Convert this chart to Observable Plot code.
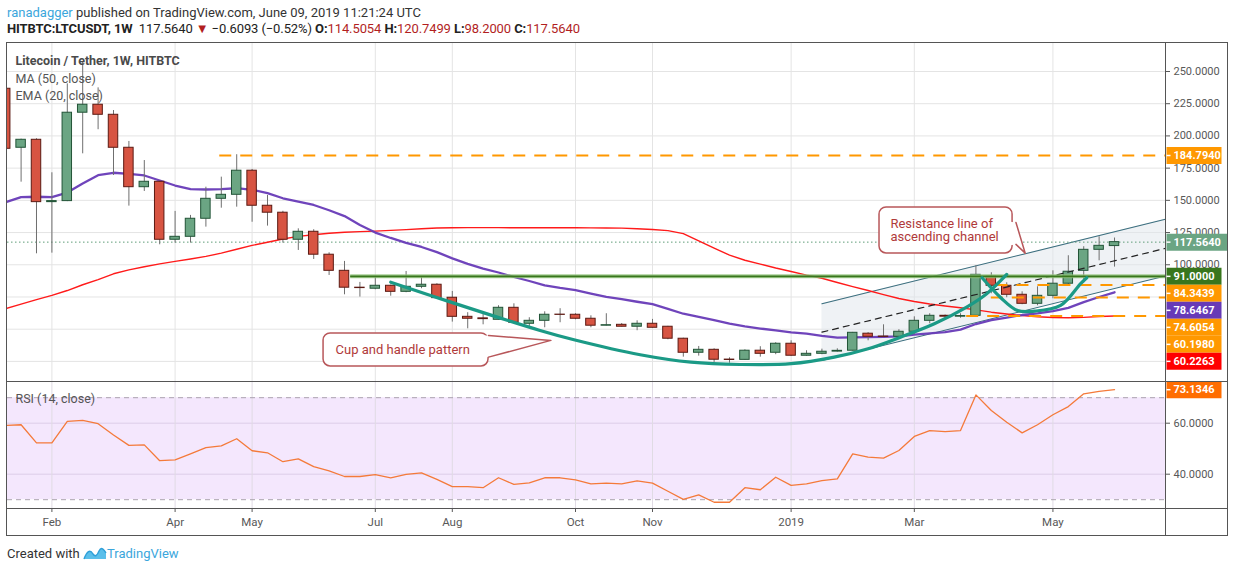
<!DOCTYPE html>
<html>
<head>
<meta charset="utf-8">
<script src="https://cdn.jsdelivr.net/npm/d3@7"></script>
<script src="https://cdn.jsdelivr.net/npm/@observablehq/plot@0.6"></script>
<style>
html,body{margin:0;padding:0;background:#fff;}
body{width:1234px;height:572px;position:relative;overflow:hidden;font-family:Roboto,"Open Sans",sans-serif;}
.abs{position:absolute;}
#h1{left:7px;top:5px;font-size:13px;color:#333;white-space:nowrap;}
#h2{left:7px;top:21px;font-size:13px;color:#222;white-space:nowrap;letter-spacing:-0.1px;}
#h2 b{font-weight:700}
.r{color:#b21f1f}
#main{left:0;top:42px;}
#rsi{left:0;top:381px;}
.ln{position:absolute;background:#555;}
#foot{left:7px;top:545px;font-size:13px;color:#333;white-space:nowrap;display:flex;align-items:center;}
</style>
</head>
<body>
<div id="h1" class="abs"><span style="color:#3ba6dc">ranadagger</span> published on TradingView.com, June 09, 2019 11:21:24 UTC</div>
<div id="h2" class="abs"><b>HITBTC:LTCUSDT, 1W</b>&nbsp; 117.5640 <span class="r">▼</span> −0.6093 (−0.52%) <b>O:</b><span class="r">114.5054</span> <b>H:</b><span class="r">120.7499</span> <b>L:</b><span class="r">98.2000</span> <b>C:</b><span class="r">117.5640</span></div>
<div id="main" class="abs"></div>
<div id="rsi" class="abs"></div>
<div class="ln" style="left:6px;top:42px;width:1222px;height:1px"></div>
<div class="ln" style="left:6px;top:381px;width:1222px;height:1px"></div>
<div class="ln" style="left:6px;top:508px;width:1222px;height:1px"></div>
<div class="ln" style="left:6px;top:535px;width:1222px;height:1px"></div>
<div class="ln" style="left:6px;top:42px;width:1px;height:494px"></div>
<div class="ln" style="left:1165px;top:42px;width:1px;height:494px"></div>
<div class="ln" style="left:1227px;top:42px;width:1px;height:494px"></div>
<div id="foot" class="abs">Created with&nbsp;<svg width="24" height="16" viewBox="0 0 24 16"><path d="M1 14 C4 6 7 4 10 9 C12 12 14 11 16 6 C18 2 20 3 23 8 L23 14 Z" fill="#5bbfea"/><path d="M1 14 C4 6 7 4 10 9 C12 12 14 11 16 6 C18 2 20 3 23 8" fill="none" stroke="#2e9fd8" stroke-width="1.4"/></svg><span style="color:#3ba6dc">TradingView</span></div>
<script>
// ---------- data (weekly candles, HITBTC LTC/USDT, from 2018-01-15) ----------
const opens = [236.6,190.8,197.0,148.6,149.4,218.0,224.2,216.4,190.8,160.2,
  164.4,119.4,121.7,135.7,151.2,154.3,173.0,145.8,140.4,119.4,
  125.6,107.8,95.3,82.2,81.4,83.7,79.0,82.9,84.5,74.4,
  59.6,58.4,57.3,66.6,54.2,56.5,61.3,61.2,58.1,52.7,
  53.4,51.9,54.2,51.9,42.6,31.7,34.0,26.4,26.2,33.3,
  31.7,38.7,29.4,30.9,32.6,33.3,46.5,44.3,44.1,48.0,
  56.5,60.4,59.7,60.4,90.7,83.7,76.7,69.7,75.9,85.3,
  95.3,111.6,114.5054];
const highs = [245,197.5,197.8,171.4,240.4,257.0,237.3,219.7,195.7,180.9,
  165.0,141.4,138.3,160.2,168.0,185.4,174.0,153.8,141.5,127.9,
  127.2,109.3,102.6,86.3,90.9,84.2,94.8,90.9,85.3,79.3,
  62.8,61.4,68.2,69.7,58.9,63.5,65.9,62.0,60.4,62.0,
  54.4,56.5,57.6,52.2,43.0,36.6,34.8,27.8,34.0,36.4,
  39.5,41.0,33.3,34.5,34.8,47.5,47.3,53.4,49.6,59.6,
  62.0,61.0,62.0,99.2,93.8,86.0,79.0,82.9,95.3,107.0,
  114.0,121.7,120.7499];
const lows = [178,164.1,108.5,109.0,149.0,186.1,204.8,169.3,145.5,156.9,
  115.5,116.8,116.8,129.2,143.9,144.7,133.0,130.0,116.8,111.1,
  104.1,91.7,76.7,74.9,80.6,75.6,78.3,81.4,73.8,55.5,
  50.3,53.4,57.0,54.7,51.1,51.1,55.0,57.3,51.1,52.5,
  51.7,48.8,50.8,41.8,28.3,29.1,24.2,23.6,26.0,28.3,
  30.2,29.0,29.0,30.2,32.2,33.0,41.0,43.8,43.4,45.7,
  54.2,58.5,58.5,59.5,77.5,74.4,69.0,68.2,73.6,84.5,
  86.0,103.1,98.2];
const closes = [190.0,197.0,148.6,149.4,218.0,224.2,216.4,190.8,160.2,164.4,
  119.4,121.7,135.7,151.2,154.3,173.0,145.8,140.4,119.4,125.6,
  107.8,95.3,82.2,81.9,83.7,79.0,82.9,84.5,74.1,59.6,
  58.1,57.8,66.6,55.0,56.5,61.2,61.1,58.1,52.7,53.1,
  51.9,54.2,51.1,42.6,31.7,34.0,26.3,26.1,33.3,30.9,
  38.7,29.4,30.9,32.5,33.2,47.2,44.1,44.0,48.0,56.5,
  60.4,59.7,60.2,92.2,83.7,76.7,69.7,75.9,85.3,94.6,
  111.6,114.7,117.564];
const ma50 = [66,69.5,73,76.2,80,84.5,88.5,93,96,98.5,
  100.7,102.6,104.5,106.5,109,112,115,117.5,120,122,
  123.3,124.5,125.2,125.7,126.1,126.7,127.3,127.9,128.5,128.7,
  128.8,128.8,128.8,128.7,128.7,128.7,128.7,128.7,128.6,128.5,
  128.4,128,127.4,126.5,124.2,118.5,113,107.5,103.5,100.5,
  97.5,94.8,92,89.5,86.2,83,80,76.8,73.8,71.5,
  69.5,68,66.6,65,63.2,61.8,60.6,59.7,59.1,58.9,
  59.2,59.8,60.2263];
const ema20 = [148.5,152.5,152.8,152.5,156,163,169.5,171.4,170.6,169.3,
  165.4,161.5,158.7,158.4,158.7,159.4,158.2,155.6,151.6,149,
  146.4,142.3,137.8,130.8,125,120.8,117,113.8,109.8,105,
  100.7,97,94,90.5,87.4,84,82,80.4,77.6,75,
  73.3,71.3,69.4,65.8,62,59.6,57,54.3,52.2,50.5,
  49,47.6,46.5,44.8,43.4,43.6,43.8,44,44.4,45.8,
  46.8,47.8,49.6,54,57,59,61,62.3,64,66.5,
  71,75,78.6467];
const rsi14 = [59.1,59.4,52.3,52.3,60.7,61.1,59.8,55.4,51.3,51.5,
  45.3,45.6,48.0,50.4,51.1,53.9,49.2,48.4,44.9,46.0,
  43.0,41.3,39.1,39.1,39.8,38.6,39.9,40.5,38.0,35.1,
  35.1,34.7,38.6,36.0,36.6,38.6,38.6,37.8,36.2,36.5,
  36.2,37.4,36.5,33.3,30.1,31.9,29.0,29.0,34.7,33.9,
  38.8,35.6,36.2,37.5,38.2,48.0,46.7,46.3,49.3,54.8,
  57.1,56.7,57.1,71.1,65.0,60.4,56.2,59.4,63.3,66.5,
  71.5,72.5,73.1346];

const tickDates = ["2018-02-05","2018-04-02","2018-05-07","2018-07-02","2018-08-06","2018-10-01","2018-11-05","2019-01-07","2019-03-04","2019-05-06"];
const tickLabels = ["Feb","Apr","May","Jul","Aug","Oct","Nov","2019","Mar","May"];
const priceGrid = [25,50,75,100,125,150,175,200,225,250];
const priceTickLabels = [100,125,150,175,200,225,250];
const rsiTicks = [40,60];

// drawn levels (price, starting bar)
const levelValues = [184.794, 84.3439, 74.6054, 60.198];
const levelStarts = [13.9, 64.3, 64.0, 62.4];
const supportValue = 91.0, supportStart = 22.4;
const lastPrice = 117.564;

// cup & handle drawing (bar position, price)
const cupBars   = [25.0,28.9,34.7,36.9,41.2,44.5,47.7,51.0,53.8,56.0,58.1,60.3,62.4,63.7,65.0];
const cupPrices = [86.5,71.0,49.0,41.8,30.2,24.4,22.6,23.2,28.3,34.8,43.8,54.2,67.1,77.5,92.5];
const handleBars   = [63.4,64.6,65.7,66.8,68.5,69.8,70.2];
const handlePrices = [89.9,74.6,64.5,64.0,68.4,85.3,89.9];

// ascending channel (bar position, price)
const chanBars  = [53.0, 75.3];
const chanUpper = [69.7, 135.3];
const chanLower = [25.7, 91.3];
const chanMid   = [47.7, 112.7];

// price-axis tags
const tagValues = [184.794, 117.564, 91.0, 84.3439, 78.6467, 74.6054, 60.198, 60.2263];
const tagColors = ["#ff9800","#6ba583","#38761d","#ff9800","#673ab7","#ff9800","#ff9800","#ff0000"];

// ---------- build ----------
const DAY = 864e5, WEEK = 7*DAY;
const dates = d3.utcMonday.range(new Date("2018-01-15"), new Date("2019-06-04"));
const d0 = +dates[0];
const at = b => new Date(d0 + b*WEEK);
const rows = dates.map((date,i)=>({date, open:opens[i], high:highs[i], low:lows[i], close:closes[i], ma:ma50[i], ema:ema20[i], rsi:rsi14[i]}));
const up = rows.filter(d=>d.close>=d.open), down = rows.filter(d=>d.close<d.open);
const xDomain = [at(0.117), at(75.31)];
const yDomain = [9.4, 272.5];
const H = 339;
const tickD = tickDates.map(d=>new Date(d));
const tickMap = new Map(tickD.map((d,i)=>[+d, tickLabels[i]]));
const FONT = "Roboto, 'Open Sans', sans-serif";

const ys = Plot.scale({y:{domain:yDomain, range:[H,0]}});
let prev = -1e9;
const tags = tagValues.map((v,k)=>{
  let px = Math.max(ys.apply(v), prev + 17);
  prev = px;
  return {v, pos: ys.invert(px), color: tagColors[k], w: k===1 ? 61 : 55};
});

const boxSym = (w,h)=>({draw(ctx){ctx.rect(1,-h/2,w,h);}});
const tickSym = {draw(ctx){ctx.moveTo(1,0);ctx.lineTo(5,0);}};
function tagMarks(t){
  return [
    Plot.dot([t],{y:"pos", frameAnchor:"right", symbol:boxSym(t.w,17), fill:t.color, stroke:"none"}),
    Plot.dot([t],{y:"pos", frameAnchor:"right", symbol:tickSym, fill:"none", stroke:"#fff"}),
    Plot.text([t],{y:"pos", text:d=>d.v.toFixed(4), frameAnchor:"right", textAnchor:"start", dx:8, fill:"#fff", fontSize:11, fontWeight:"bold", fontFamily:FONT})
  ];
}

const callRed = "#b03a3a";
function callout(box, tail, lines){
  return [
    Plot.rect([box],{x1:d=>at(d.b1), x2:d=>at(d.b2), y1:"p1", y2:"p2", rx:7, fill:"#fff", stroke:"#b8575a", strokeWidth:1.5}),
    Plot.line(tail,{x:d=>at(d[0]), y:d=>d[1], fill:"#fff", stroke:"none"}),
    Plot.line(tail.slice(1,4),{x:d=>at(d[0]), y:d=>d[1], stroke:"#b8575a", strokeWidth:1.5}),
    Plot.text(lines,{x:d=>at(d.b), y:"p", text:"t", textAnchor:"start", fill:callRed, fontSize:13, fontFamily:FONT})
  ];
}

const resBox = {b1:56.74, b2:65.38, p1:108.8, p2:144.5};
const resTail = [[65.1,133.5],[65.6,132.8],[66.2,109.0],[65.6,115.8],[65.1,115.0]];
const resText = [{b:57.45, p:131.8, t:"Resistance line of"},{b:57.45, p:121.4, t:"ascending channel"}];
const cupBox = {b1:20.64, b2:31.35, p1:21.1, p2:46.7};
const cupTail = [[31.1,45.1],[31.35,45.1],[35.4,41.3],[31.35,28.3],[31.1,28.3]];
const cupText = [{b:21.42, p:34.0, t:"Cup and handle pattern"}];

const main = Plot.plot({
  width:1234, height:H, marginLeft:7, marginRight:69, marginTop:0, marginBottom:0,
  x:{type:"utc", domain:xDomain, axis:null},
  y:{domain:yDomain, axis:null},
  style:{background:"transparent", fontFamily:FONT, overflow:"visible"},
  marks:[
    Plot.gridY(priceGrid,{stroke:"#e4e4e4", strokeOpacity:1}),
    Plot.gridX(tickD,{stroke:"#e4e4e4", strokeOpacity:1}),
    Plot.areaY(chanBars.map((b,i)=>({b, lo:chanLower[i], hi:chanUpper[i]})),{x:d=>at(d.b), y1:"lo", y2:"hi", fill:"#dfe5ec", fillOpacity:0.5}),
    Plot.line(chanBars.map((b,i)=>[b,chanUpper[i]]),{x:d=>at(d[0]), y:d=>d[1], stroke:"#3b6e7e", strokeWidth:1.1}),
    Plot.line(chanBars.map((b,i)=>[b,chanLower[i]]),{x:d=>at(d[0]), y:d=>d[1], stroke:"#3b6e7e", strokeWidth:1.1}),
    Plot.ruleY([lastPrice],{stroke:"#5e9c78", strokeDasharray:"1.5,2.5"}),
    Plot.line(rows,{x:"date", y:"ma", stroke:"#ff1a1a", strokeWidth:1.4, clip:true}),
    Plot.line(rows,{x:"date", y:"ema", stroke:"#673ab7", strokeWidth:2.3, strokeOpacity:0.95, clip:true}),
    Plot.ruleX(rows,{x:"date", y1:"low", y2:"high", stroke:"#6f6f6f", clip:true}),
    Plot.rect(up,{x1:d=>new Date(+d.date-2.15*DAY), x2:d=>new Date(+d.date+2.15*DAY), y1:"open", y2:"close", fill:"#6ba583", stroke:"#225437", clip:true}),
    Plot.rect(down,{x1:d=>new Date(+d.date-2.15*DAY), x2:d=>new Date(+d.date+2.15*DAY), y1:"close", y2:"open", fill:"#d75442", stroke:"#5b1a13", clip:true}),
    Plot.line(chanBars.map((b,i)=>[b,chanMid[i]]),{x:d=>at(d[0]), y:d=>d[1], stroke:"#222", strokeWidth:1.2, strokeDasharray:"6,5"}),
    Plot.ruleY([supportValue],{x1:at(supportStart), x2:xDomain[1], stroke:"#93c47d", strokeWidth:4, strokeOpacity:0.8}),
    Plot.ruleY([supportValue],{x1:at(supportStart), x2:xDomain[1], stroke:"#38761d", strokeWidth:1.8}),
    ...levelValues.map((v,k)=>Plot.ruleY([v],{x1:at(levelStarts[k]), x2:xDomain[1], stroke:"#ff9800", strokeWidth:2, strokeDasharray:"12,9"})),
    Plot.line(cupBars.map((b,i)=>[b,cupPrices[i]]),{x:d=>at(d[0]), y:d=>d[1], curve:"catmull-rom", stroke:"#1b9a86", strokeWidth:3.2}),
    Plot.line(handleBars.map((b,i)=>[b,handlePrices[i]]),{x:d=>at(d[0]), y:d=>d[1], curve:"catmull-rom", stroke:"#1b9a86", strokeWidth:3.2}),
    ...callout(resBox, resTail, resText),
    ...callout(cupBox, cupTail, cupText),
    Plot.axisY({anchor:"right", ticks:priceTickLabels, tickFormat:d=>d.toFixed(4), tickSize:4, tickPadding:4, fontSize:11, color:"#585858", label:null, fontFamily:FONT}),
    ...tags.flatMap(tagMarks),
    Plot.text(["Litecoin / Tether, 1W, HITBTC"],{text:d=>d, frameAnchor:"top-left", dx:8, dy:18.7, lineAnchor:"middle", fontWeight:"bold", fill:"#4a4a4a", fontSize:12.5, fontFamily:FONT}),
    Plot.text(["MA (50, close)"],{text:d=>d, frameAnchor:"top-left", dx:8, dy:36.3, lineAnchor:"middle", fill:"#555", fontSize:12.5, fontFamily:FONT}),
    Plot.text(["EMA (20, close)"],{text:d=>d, frameAnchor:"top-left", dx:8, dy:53.7, lineAnchor:"middle", fill:"#555", fontSize:12.5, fontFamily:FONT})
  ]
});
document.getElementById("main").appendChild(main);

const rsiTag = {v:rsi14[rsi14.length-1]};
const rsiPlot = Plot.plot({
  width:1234, height:154, marginLeft:7, marginRight:69, marginTop:0, marginBottom:27,
  x:{type:"utc", domain:xDomain, axis:null},
  y:{domain:[26.55,76.35], axis:null},
  style:{background:"transparent", fontFamily:FONT, overflow:"visible"},
  marks:[
    Plot.rect([0],{y1:30, y2:70, fill:"#f4e7fd"}),
    Plot.gridY(rsiTicks,{stroke:"#dccde8", strokeOpacity:1}),
    Plot.gridX(tickD,{stroke:"#e0dbe4", strokeOpacity:1}),
    Plot.ruleY([30,70],{stroke:"#aaa3ae", strokeDasharray:"5,4"}),
    Plot.line(rows,{x:"date", y:"rsi", stroke:"#f47a3a", strokeWidth:1.3, clip:true}),
    Plot.axisX({ticks:tickD, tickFormat:d=>tickMap.get(+d), tickSize:4, tickPadding:5, fontSize:11.5, color:"#585858", label:null, fontFamily:FONT}),
    Plot.axisY({anchor:"right", ticks:rsiTicks, tickFormat:d=>d.toFixed(4), tickSize:4, tickPadding:4, fontSize:11, color:"#585858", label:null, fontFamily:FONT}),
    Plot.dot([rsiTag],{y:"v", frameAnchor:"right", symbol:boxSym(55,17), fill:"#ff6d00", stroke:"none"}),
    Plot.dot([rsiTag],{y:"v", frameAnchor:"right", symbol:tickSym, fill:"none", stroke:"#fff"}),
    Plot.text([rsiTag],{y:"v", text:d=>d.v.toFixed(4), frameAnchor:"right", textAnchor:"start", dx:8, fill:"#fff", fontSize:11, fontWeight:"bold", fontFamily:FONT}),
    Plot.text(["RSI (14, close)"],{text:d=>d, frameAnchor:"top-left", dx:8, dy:17, lineAnchor:"middle", fill:"#555", fontSize:12.5, fontFamily:FONT})
  ]
});
document.getElementById("rsi").appendChild(rsiPlot);
</script>
</body>
</html>
